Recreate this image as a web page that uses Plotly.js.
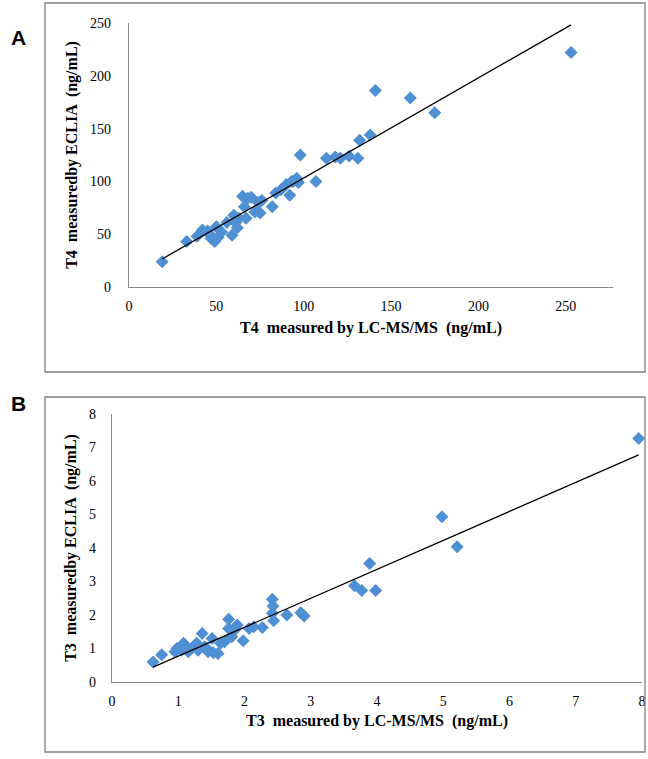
<!DOCTYPE html>
<html><head><meta charset="utf-8">
<script src="https://cdn.plot.ly/plotly-3.0.1.min.js"></script>
<style>html,body{margin:0;padding:0;background:#fff}</style>
</head><body><div id="chart" style="width:648px;height:759px"></div>
<script>
// Panel A: T4 (ng/mL)
const t4LCMS = [19, 33, 39, 42, 45, 47, 49, 50, 53, 56, 59, 60, 61, 63, 65, 66, 67, 70, 72, 74, 75, 76, 82, 84, 87, 92, 93, 96, 97, 98, 107, 113, 118, 121, 126, 131, 132, 138, 141, 161, 175, 253, 46, 51, 62, 68, 90, 94];
const t4ECLIA = [24, 43, 48, 54, 53, 46, 43, 57, 52, 61, 49, 68, 61, 65, 86, 76, 65, 85, 71, 80, 70, 82, 76, 89, 92, 87, 100, 103, 99, 125, 100, 122, 123, 122, 124, 122, 139, 144, 186, 179, 165, 222, 50, 47, 56, 84, 97, 100];
const t4XTicks = [0, 50, 100, 150, 200, 250];
const t4YTicks = [0, 50, 100, 150, 200, 250];

// Panel B: T3 (ng/mL)
const t3LCMS = [0.62, 0.75, 0.98, 1.08, 1.28, 1.36, 1.43, 1.53, 1.51, 1.64, 1.76, 1.76, 1.81, 1.89, 1.98, 2.07, 2.14, 2.27, 2.42, 2.43, 2.42, 2.44, 2.64, 2.85, 2.90, 3.66, 3.77, 3.89, 3.98, 4.98, 5.21, 7.95, 0.95, 1.05, 1.10, 1.15, 1.20, 1.25, 1.30, 1.40, 1.45, 1.60, 1.70, 1.85];
const t3ECLIA = [0.60, 0.81, 1.00, 1.16, 1.16, 1.45, 1.00, 0.87, 1.30, 1.16, 1.87, 1.60, 1.35, 1.70, 1.23, 1.60, 1.65, 1.63, 2.47, 2.27, 2.05, 1.83, 2.00, 2.07, 1.97, 2.87, 2.73, 3.54, 2.73, 4.93, 4.04, 7.27, 0.90, 0.95, 1.05, 0.90, 1.00, 1.10, 0.95, 1.05, 0.90, 0.85, 1.20, 1.55];
const t3XTicks = [0, 1, 2, 3, 4, 5, 6, 7, 8];
const t3YTicks = [0, 1, 2, 3, 4, 5, 6, 7, 8];

// Linear least-squares trendline (as Excel's linear trendline)
function trend(xs, ys) {
  const n = xs.length;
  let sx = 0, sy = 0, sxx = 0, sxy = 0;
  for (let i = 0; i < n; i++) { sx += xs[i]; sy += ys[i]; sxx += xs[i]*xs[i]; sxy += xs[i]*ys[i]; }
  const b = (n*sxy - sx*sy) / (n*sxx - sx*sx);
  const a = (sy - b*sx) / n;
  const lo = Math.min(...xs), hi = Math.max(...xs);
  return {x: [lo, hi], y: [a + b*lo, a + b*hi]};
}
const fitA = trend(t4LCMS, t4ECLIA);
const fitB = trend(t3LCMS, t3ECLIA);

const markerStyle = {symbol: 'diamond', size: 10, color: '#4F8FD3', line: {width: 0}};
const lineStyle = {color: '#000000', width: 1.3};

const data = [
  {type: 'scatter', mode: 'markers', x: t4LCMS, y: t4ECLIA, xaxis: 'x', yaxis: 'y', marker: markerStyle, cliponaxis: false, showlegend: false},
  {type: 'scatter', mode: 'lines', x: fitA.x, y: fitA.y, xaxis: 'x', yaxis: 'y', line: lineStyle, showlegend: false},
  {type: 'scatter', mode: 'markers', x: t3LCMS, y: t3ECLIA, xaxis: 'x2', yaxis: 'y2', marker: markerStyle, cliponaxis: false, showlegend: false},
  {type: 'scatter', mode: 'lines', x: fitB.x, y: fitB.y, xaxis: 'x2', yaxis: 'y2', line: lineStyle, showlegend: false}
];

const serif = 'Liberation Serif, Times New Roman, serif';
const tickFont = {family: serif, size: 14, color: '#000'};
const titleFont = {family: serif, size: 16, color: '#000'};
const axisBase = {showline: true, linecolor: '#8a8a8a', linewidth: 1.3, showgrid: false, zeroline: false, ticks: '', tickfont: tickFont, fixedrange: true};

const W = 648, H = 759;
const px = v => v / W, py = v => 1 - v / H;

const layout = {
  width: W, height: H,
  margin: {l: 0, r: 0, t: 0, b: 0},
  paper_bgcolor: '#fff', plot_bgcolor: '#fff',
  showlegend: false,
  xaxis: Object.assign({}, axisBase, {
    domain: [px(129), px(613)], range: [0, 277], tickvals: t4XTicks, anchor: 'y',
    ticklabelstandoff: 6,
    title: {text: '<b>T4  measured by LC-MS/MS  (ng/mL)</b>', font: titleFont, standoff: 8}
  }),
  yaxis: Object.assign({}, axisBase, {
    domain: [py(287), py(23)], range: [0, 250], tickvals: t4YTicks, anchor: 'x',
    ticklabelstandoff: 14,
    title: {text: '<b>T4  measuredby ECLIA  (ng/mL)</b>', font: titleFont, standoff: 8}
  }),
  xaxis2: Object.assign({}, axisBase, {
    domain: [px(112), px(642)], range: [0, 8], tickvals: t3XTicks, anchor: 'y2',
    ticklabelstandoff: 6,
    title: {text: '<b>T3  measured by LC-MS/MS  (ng/mL)</b>', font: titleFont, standoff: 6}
  }),
  yaxis2: Object.assign({}, axisBase, {
    domain: [py(682), py(414)], range: [0, 8], tickvals: t3YTicks, anchor: 'x2',
    ticklabelstandoff: 12,
    title: {text: '<b>T3  measuredby ECLIA  (ng/mL)</b>', font: titleFont, standoff: 8}
  }),
  shapes: [
    {type: 'rect', xref: 'paper', yref: 'paper', x0: px(45), x1: px(645), y0: py(372), y1: py(3), line: {color: '#808080', width: 1.3}, fillcolor: 'rgba(0,0,0,0)'},
    {type: 'rect', xref: 'paper', yref: 'paper', x0: px(45), x1: px(645), y0: py(752), y1: py(397), line: {color: '#808080', width: 1.3}, fillcolor: 'rgba(0,0,0,0)'}
  ],
  annotations: [
    {text: '<b>A</b>', xref: 'paper', yref: 'paper', x: px(18), y: py(38), xanchor: 'center', yanchor: 'middle', showarrow: false, font: {family: 'Liberation Sans, Arial, sans-serif', size: 21, color: '#000'}},
    {text: '<b>B</b>', xref: 'paper', yref: 'paper', x: px(18), y: py(404), xanchor: 'center', yanchor: 'middle', showarrow: false, font: {family: 'Liberation Sans, Arial, sans-serif', size: 21, color: '#000'}}
  ]
};

Plotly.newPlot('chart', data, layout, {displayModeBar: false, staticPlot: true});
</script>
</body></html>
